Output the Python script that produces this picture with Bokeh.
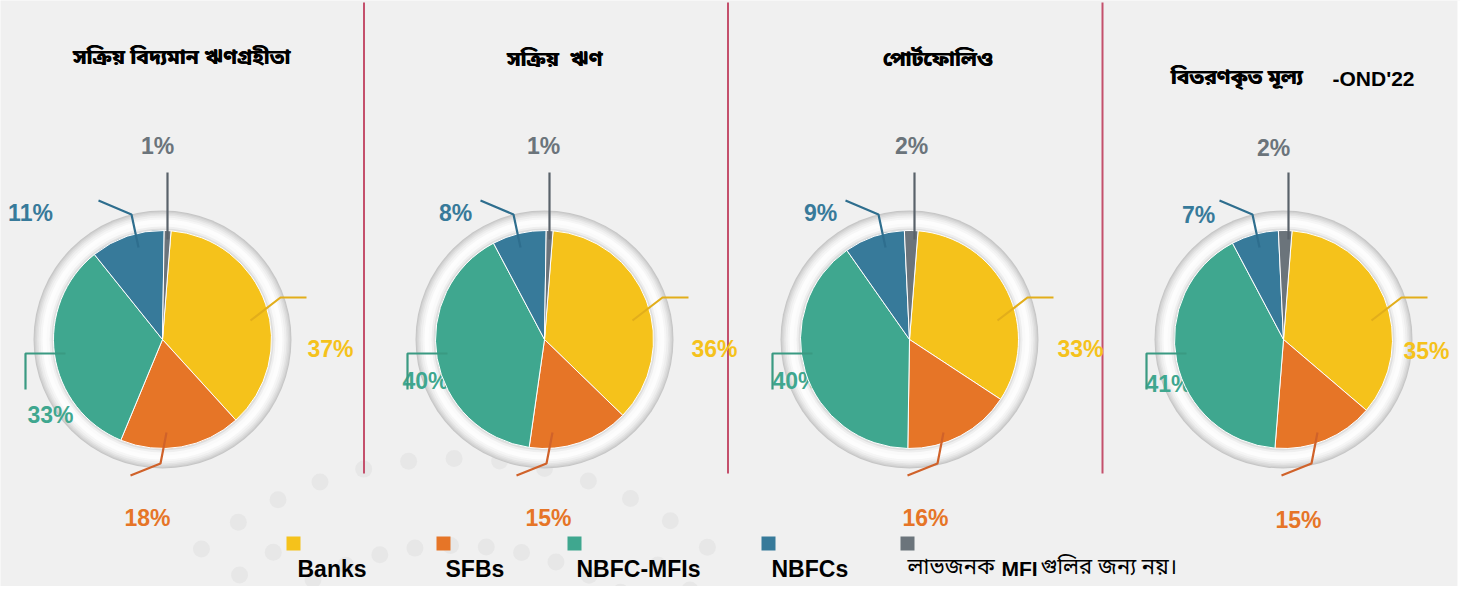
import math
from bokeh.plotting import figure
from bokeh.models import Range1d
from bokeh.embed import file_html
from bokeh.resources import INLINE
from bokeh.core.properties import value

# ---------------- data ----------------
categories = ["Banks", "SFBs", "NBFC-MFIs", "NBFCs", "লাভজনক MFIগুলির জন্য নয়।"]
panel_titles = ["সক্রিয় বিদ্যমান ঋণগ্রহীতা", "সক্রিয়  ঋণ", "পোর্টফোলিও", "বিতরণকৃত মূল্য"]
title_suffix = ["", "", "", "-OND'22"]
active_borrowers = [37, 18, 33, 11, 1]
active_loans = [36, 15, 40, 8, 1]
portfolio = [33, 16, 40, 9, 2]
disbursement = [35, 15, 41, 7, 2]
series = [active_borrowers, active_loans, portfolio, disbursement]

slice_colors = ["#F5C21B", "#E67527", "#3FA78F", "#377A9A", "#6B747B"]
line_colors = ["#E2AE1B", "#D0622A", "#3A9A82", "#2E6E8E", "#59626A"]

# ---------------- layout (reference pixel coords, y down) ----------------
PAGE_H = 602
def Y(y):
    return PAGE_H - y

centers_x = [162, 544, 909, 1283]
center_y = 339
R = 109
START = 4.5  # degrees clockwise from 12 o'clock where first slice begins

title_pos = [(181, 58), (554, 60), (937, 60), (1236, 78)]
suffix_pos = (1332, 78)

label_off = [
    [(168, 9), (-15, 178), (-112, 75), (-132, -127), (-5, -194)],
    [(170, 9), (4, 178), (-119, 41), (-89, -127), (-1, -194)],
    [(171, 9), (16, 178), (-114, 41), (-89, -127), (2, -194)],
    [(143, 11), (15, 180), (-115, 44), (-85, -125), (-10, -192)],
]
leader_shape = [
    [(88, -19), (118, -42), (144, -42)],
    [(4, 93), (-2, 124), (-32, 136)],
    [(-97, 14), (-137, 14), (-137, 50)],
    [(-24, -92), (-31, -125), (-64, -139)],
    [(5, -100), (5, -167)],
]
orange_shift = [0, 4, 30, 30]

divider_x = [363.5, 727.5, 1102]

legend_sq_x = [293, 443, 574, 768, 907]
legend_sq_y = 543
legend_txt_x = [297, 445, 576, 771, 907]
legend_txt_y = 568

p = figure(width=1460, height=586,
           x_range=Range1d(0, 1460), y_range=Range1d(16, 602),
           x_axis_type=None, y_axis_type=None,
           toolbar_location=None, output_backend="svg",
           min_border=0, background_fill_color="#F0F0F0",
           border_fill_color="#F0F0F0", outline_line_color=None)

# white strip on the right edge
p.quad(left=[1457], right=[1470], bottom=[0], top=[610], fill_color="white", line_color=None)

# decorative dots
DOT_C = (455, 860)
dx_, dy_ = [], []
for r, a0, n, lo in [(402, -39.2, 13, -90), (315, -33.4, 11, -90), (358, -43.6, 15, 30)]:
    for k in range(n):
        a = a0 + k * 6.5
        if abs(a) < lo:
            continue
        dx_.append(DOT_C[0] + r * math.sin(math.radians(a)))
        dy_.append(Y(DOT_C[1] - r * math.cos(math.radians(a))))
p.circle(x=dx_, y=dy_, radius=8.5, fill_color="#E7E7E7", line_color=None)

# divider lines
p.segment(x0=divider_x, y0=[Y(2)] * 3, x1=divider_x, y1=[Y(473)] * 3,
          line_color="#C4506C", line_width=2)

# rings
ring = [(129, "#C6C6C6"), (128, "#D0D0D0"), (127, "#DADADA"), (125.5, "#E4E4E4"),
        (124, "#EEEEEE"), (122, "#F6F6F6"), (120, "#FDFDFD"), (116, "#FAFAFA"),
        (113, "#EFEFEF"), (111, "#DEDEDE")]
for rr, cc in ring:
    p.circle(x=centers_x, y=[Y(center_y)] * 4, radius=rr, fill_color=cc, line_color=None)

# percentage labels (drawn beneath the pie)
lx, ly, lt, lc = [], [], [], []
for i, vals in enumerate(series):
    for j, v in enumerate(vals):
        ox, oy = label_off[i][j]
        lx.append(centers_x[i] + ox)
        ly.append(Y(center_y + oy))
        lt.append(f"{v}%")
        lc.append(slice_colors[j])
p.text(x=lx, y=ly, text=lt, text_color=lc, text_font=value("Liberation Sans"),
       text_font_size="23px", text_font_style="bold",
       text_align="center", text_baseline="middle")

# pie slices
wx, wy, ws, we, wc = [], [], [], [], []
for i, vals in enumerate(series):
    total = sum(vals)
    cum = 0
    for j, v in enumerate(vals):
        t0 = START + cum / total * 360
        cum += v
        t1 = START + cum / total * 360
        wx.append(centers_x[i])
        wy.append(Y(center_y))
        ws.append(math.radians(90 - t1))
        we.append(math.radians(90 - t0))
        wc.append(slice_colors[j])
p.wedge(x=wx, y=wy, radius=R, start_angle=ws, end_angle=we,
        direction="anticlock", fill_color=wc, line_color="white", line_width=1)

# leader lines
mxs, mys, mcs = [], [], []
for i in range(4):
    for j in range(5):
        sh = orange_shift[i] if j == 1 else 0
        pts = leader_shape[j]
        mxs.append([centers_x[i] + px + sh for px, py in pts])
        mys.append([Y(center_y + py) for px, py in pts])
        mcs.append(line_colors[j])
p.multi_line(xs=mxs, ys=mys, line_color=mcs, line_width=2.2)

# titles (drawn twice with a tiny offset to thicken the Bengali strokes)
shown_titles = [t.replace("  ", " \u00a0") for t in panel_titles]
for off in (0, 0.6):
    p.text(x=[t[0] + off for t in title_pos], y=[Y(t[1]) for t in title_pos], text=shown_titles,
           text_color="black", text_font=value("Noto Sans Bengali"), text_font_size="21px",
           text_font_style="bold", text_align="center", text_baseline="middle")
p.text(x=[suffix_pos[0]], y=[Y(suffix_pos[1])], text=[title_suffix[3]],
       text_color="black", text_font=value("Liberation Sans"), text_font_size="21px",
       text_font_style="bold", text_align="left", text_baseline="middle")

# legend
p.rect(x=legend_sq_x, y=[Y(legend_sq_y)] * 5, width=14, height=14,
       fill_color=slice_colors, line_color=None)
p.text(x=legend_txt_x[:4], y=[Y(legend_txt_y)] * 4, text=categories[:4], text_color="black",
       text_font=value("Liberation Sans"), text_font_size="23px", text_font_style="bold",
       text_align="left", text_baseline="middle")

# last legend entry: Bengali text with a bold "MFI" in the middle
head, tail = categories[4].split("MFI")
parts = [(head.strip(), legend_txt_x[4], "normal", "Noto Sans Bengali", "22px"),
         ("MFI", legend_txt_x[4] + 94, "bold", "Liberation Sans", "21px"),
         (tail, legend_txt_x[4] + 133, "normal", "Noto Sans Bengali", "22px")]
for txt, xx, st, fnt, fs in parts:
    p.text(x=[xx], y=[Y(legend_txt_y)], text=[txt], text_color="black",
           text_font=value(fnt), text_font_size=fs, text_font_style=st,
           text_align="left", text_baseline="middle")

open("out.html", "w").write(file_html(p, INLINE))
